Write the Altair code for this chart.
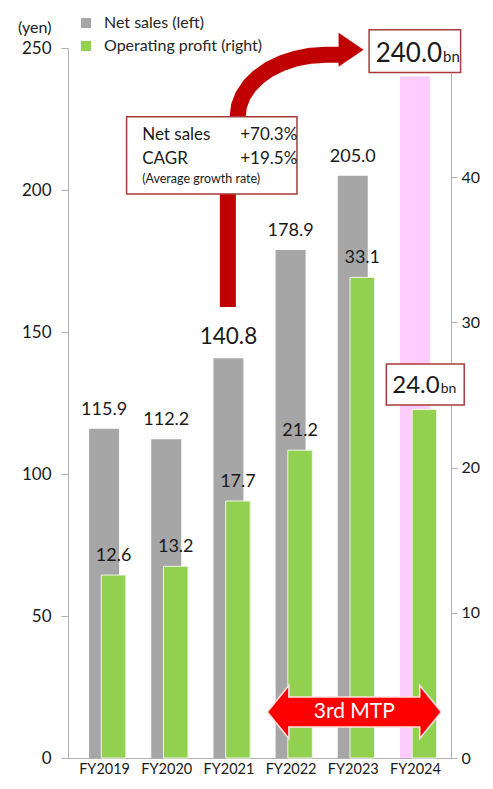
import altair as alt
import pandas as pd

# ---------------- data ----------------
years = ["FY2019", "FY2020", "FY2021", "FY2022", "FY2023", "FY2024"]
net_sales = [115.9, 112.2, 140.8, 178.9, 205.0, 240.0]
op_profit = [12.6, 13.2, 17.7, 21.2, 33.1, 24.0]
series_names = ["Net sales (left)", "Operating profit (right)"]
left_ticks = [0, 50, 100, 150, 200, 250]
right_ticks = [0, 10, 20, 30, 40]
left_max = 250
right_max = 48.9

# curved growth arrow, in data units (x: category index, y: net-sales scale)
arrow_x = [2.491, 2.491, 2.648, 2.670, 2.734, 2.839, 2.981, 3.157, 3.361, 3.586, 3.826, 4.073, 4.308]
arrow_y = [158.8, 198.6, 225.8, 229.6, 233.2, 236.7, 239.8, 242.5, 244.7, 246.3, 247.3, 247.6, 247.6]
arrow_head = (4.473, 249.4)

# annotation boxes (x, x2, y, y2) in data units
box_x = [0.862, 4.763, 5.040]
box_x2 = [3.603, 6.235, 6.293]
box_y = [198.6, 241.4, 124.3]
box_y2 = [225.8, 256.4, 138.7]

# texts
mid_texts = ["Net sales", "+70.3%", "CAGR", "+19.5%", "(Average growth rate)"]
mid_x = [1.113, 2.69, 1.113, 2.69, 1.113]
mid_y = [219.2, 219.2, 211.0, 211.0, 203.9]
mid_size = [17, 17, 17, 17, 12.5]

big_texts = ["240.0", "24.0"]
big_x = [5.938, 5.898]
big_y = [245.2, 128.4]
big_size = [26, 24]

unit_texts = ["bn", "bn"]
unit_x = [5.953, 5.914]
unit_y = [245.2, 128.4]
unit_size = [15, 14]

mtp_text = "3rd MTP"
mtp_pos = (4.525, 16.2)

FONT = "Lato"
GRAY = "#a6a6a6"
GREEN = "#92d050"
PINK = "#ffccff"
DARKRED = "#c00000"
AXIS_GRAY = "#b0b0b0"
TXT = "#1a1a1a"

df = pd.DataFrame({
    "year": years,
    "pos": [i + 0.5 for i in range(len(years))],
    "sales": net_sales,
    "profit": op_profit,
    "s_series": series_names[0],
    "p_series": series_names[1],
})

xscale = alt.Scale(domain=[0, len(years)], nice=False, zero=False)
label_expr = "[" + ",".join("'%s'" % y for y in years) + "][floor(datum.value)]"
xaxis = alt.Axis(values=[i + 0.5 for i in range(len(years))], labelExpr=label_expr,
                 grid=False, ticks=False, tickSize=0, domainColor=AXIS_GRAY,
                 labelFont=FONT, labelFontSize=14.5, labelColor=TXT, labelPadding=4,
                 title=None)
color_scale = alt.Scale(domain=series_names, range=[GRAY, GREEN])
legend = alt.Legend(title=None, orient="none", legendX=10, legendY=-33,
                    symbolType="square", symbolSize=100, symbolStrokeWidth=0,
                    labelFont=FONT, labelFontSize=16, labelColor="#262626",
                    rowPadding=7, labelOffset=10, padding=0)

yleft = alt.Scale(domain=[0, left_max], nice=False)
yright = alt.Scale(domain=[0, right_max], nice=False)

base = alt.Chart(df)

gray_bars = base.mark_bar(size=30).encode(
    x=alt.X("pos:Q", scale=xscale, axis=xaxis),
    y=alt.Y("sales:Q", scale=yleft,
            axis=alt.Axis(values=left_ticks, grid=False, tickSize=7, tickColor=AXIS_GRAY,
                          domainColor=AXIS_GRAY, labelFont=FONT, labelFontSize=17,
                          labelColor=TXT, labelPadding=10,
                          title="(yen)", titleAngle=0, titleAlign="right",
                          titleBaseline="middle", titleX=-17, titleY=-21,
                          titleFont=FONT, titleFontSize=16, titleFontWeight="normal",
                          titleColor=TXT)),
    color=alt.condition("datum.year == 'FY2024'", alt.value(PINK),
                        alt.Color("s_series:N", scale=color_scale, legend=legend)),
)
gray_labels = base.transform_filter("datum.year != 'FY2024'").mark_text(
    baseline="alphabetic", dy=-14, font=FONT, color=TXT
).encode(
    x=alt.X("pos:Q", scale=xscale),
    y=alt.Y("sales:Q", scale=yleft),
    text=alt.Text("sales:Q", format=".1f"),
    size=alt.condition("datum.year == 'FY2021'", alt.value(22.5), alt.value(18)),
)
gray_group = alt.layer(gray_bars, gray_labels)

green_bars = base.mark_bar(size=24.5, xOffset=9.5, stroke="#eef6e6", strokeWidth=1).encode(
    x=alt.X("pos:Q", scale=xscale),
    y=alt.Y("profit:Q", scale=yright,
            axis=alt.Axis(orient="right", values=right_ticks, grid=False, tickSize=6,
                          tickColor=AXIS_GRAY, domainColor=AXIS_GRAY, labelFont=FONT,
                          labelFontSize=16, labelColor=TXT, labelPadding=4, title=None)),
    color=alt.Color("p_series:N", scale=color_scale, legend=legend),
)
green_labels = base.transform_filter("datum.year != 'FY2024'").mark_text(
    baseline="alphabetic", dy=-14, dx=9.5, font=FONT, color=TXT, fontSize=18
).encode(
    x=alt.X("pos:Q", scale=xscale),
    y=alt.Y("profit:Q", scale=yright),
    text=alt.Text("profit:Q", format=".1f"),
)
green_group = alt.layer(green_bars, green_labels)

# ---------------- annotations ----------------
ay = alt.Scale(domain=[0, left_max], nice=False)

arc_df = pd.DataFrame({"x": arrow_x, "y": arrow_y, "i": list(range(len(arrow_x)))})
arc = alt.Chart(arc_df).mark_line(color=DARKRED, strokeWidth=16, strokeCap="butt",
                                  strokeJoin="round").encode(
    x=alt.X("x:Q", scale=xscale),
    y=alt.Y("y:Q", scale=ay, axis=None),
    order="i:Q",
)
head_df = pd.DataFrame({"x": [arrow_head[0]], "y": [arrow_head[1]]})
head = alt.Chart(head_df).mark_point(shape="M-0.735,-1L0.735,0L-0.735,1Z", size=1156,
                                     filled=True, color=DARKRED, opacity=1).encode(
    x=alt.X("x:Q", scale=xscale),
    y=alt.Y("y:Q", scale=ay, axis=None),
)

box_df = pd.DataFrame({"x": box_x, "x2": box_x2, "y": box_y, "y2": box_y2})
boxes = alt.Chart(box_df).mark_rect(fill="white", stroke="#a83a3a", strokeWidth=1.5).encode(
    x=alt.X("x:Q", scale=xscale), x2="x2:Q",
    y=alt.Y("y:Q", scale=ay, axis=None), y2="y2:Q",
)

mid_df = pd.DataFrame({"x": mid_x, "y": mid_y, "t": mid_texts, "fs": mid_size})
mid_txt = alt.Chart(mid_df).mark_text(align="left", baseline="middle", font=FONT,
                                      color=TXT).encode(
    x=alt.X("x:Q", scale=xscale), y=alt.Y("y:Q", scale=ay, axis=None),
    text="t:N", size=alt.Size("fs:Q", scale=None),
)
big_df = pd.DataFrame({"x": big_x, "y": big_y, "t": big_texts, "fs": big_size})
big_txt = alt.Chart(big_df).mark_text(align="right", baseline="alphabetic", font=FONT,
                                      color=TXT).encode(
    x=alt.X("x:Q", scale=xscale), y=alt.Y("y:Q", scale=ay, axis=None),
    text="t:N", size=alt.Size("fs:Q", scale=None),
)
unit_df = pd.DataFrame({"x": unit_x, "y": unit_y, "t": unit_texts, "fs": unit_size})
unit_txt = alt.Chart(unit_df).mark_text(align="left", baseline="alphabetic", font=FONT,
                                        color=TXT).encode(
    x=alt.X("x:Q", scale=xscale), y=alt.Y("y:Q", scale=ay, axis=None),
    text="t:N", size=alt.Size("fs:Q", scale=None),
)

mtp_df = pd.DataFrame({"x": [mtp_pos[0]], "y": [mtp_pos[1]], "t": [mtp_text]})
dbl = alt.Chart(mtp_df).mark_point(
    shape="M-1,0L-0.752,-0.305L-0.752,-0.172L0.752,-0.172L0.752,-0.305L1,0L0.752,0.305L0.752,0.172L-0.752,0.172L-0.752,0.305Z",
    size=30276, filled=True, fill="#ff0000", stroke="#ffe0e0", strokeWidth=1.5, opacity=1,
).encode(
    x=alt.X("x:Q", scale=xscale), y=alt.Y("y:Q", scale=ay, axis=None),
)
mtp_txt = alt.Chart(mtp_df).mark_text(align="center", baseline="middle", font=FONT,
                                      fontSize=21, color="white").encode(
    x=alt.X("x:Q", scale=xscale), y=alt.Y("y:Q", scale=ay, axis=None),
    text="t:N",
)

annot_group = alt.layer(arc, head, boxes, mid_txt, big_txt, unit_txt, dbl, mtp_txt)

chart = alt.layer(gray_group, green_group, annot_group).resolve_scale(
    y="independent"
).properties(
    width=383, height=710,
    autosize=alt.AutoSizeParams(type="none"),
    padding={"left": 60, "top": 40, "right": 34, "bottom": 18},
    background="white",
).configure_view(stroke=None)

chart.save("out.html", embed_options={"renderer": "svg", "actions": False})
